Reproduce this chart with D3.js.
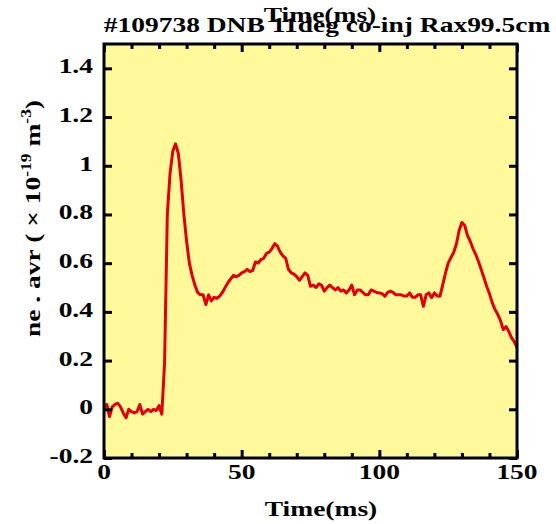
<!DOCTYPE html>
<html>
  <head>
    <script src="https://d3js.org/d3.v7.min.js"></script>
    <style>
      body {
        margin: 0;
        background: #ffffff;
      }
      text {
        font-family: "Liberation Serif", "Times New Roman", serif;
        font-weight: bold;
      }
    </style>
  </head>
  <body>
    <div id="chart"></div>
  </body>

  <script type="text/javascript">
    // shot #109738, line-averaged density vs time
    const timeMs = [
      0, 1, 2, 3, 4, 5, 6, 7, 8, 9, 10, 11, 12, 13, 14, 15, 16, 17, 18, 19,
      20, 21, 22, 23, 24, 25, 26, 27, 28, 29, 30, 31, 32, 33, 34, 35, 36, 37,
      38, 39, 40, 41, 42, 43, 44, 45, 46, 47, 48, 49, 50, 51, 52, 53, 54, 55,
      56, 57, 58, 59, 60, 61, 62, 63, 64, 65, 66, 67, 68, 69, 70, 71, 72, 73,
      74, 75, 76, 77, 78, 79, 80, 81, 82, 83, 84, 85, 86, 87, 88, 89, 90, 91,
      92, 93, 94, 95, 96, 97, 98, 99, 100, 101, 102, 103, 104, 105, 106, 107,
      108, 109, 110, 111, 112, 113, 114, 115, 116, 117, 118, 119, 120, 121,
      122, 123, 124, 125, 126, 127, 128, 129, 130, 131, 132, 133, 134, 135,
      136, 137, 138, 139, 140, 141, 142, 143, 144, 145, 146, 147, 148, 149, 150,
    ];
    const neAvr = [
      0.01, 0.02, -0.03, 0.01, 0.02, 0.025, 0.01, -0.015, -0.035, 0.0, -0.01,
      -0.015, -0.01, 0.02, -0.02, -0.01, 0.0, -0.01, 0.0, -0.005, 0.015,
      -0.02, 0.19, 0.8, 0.97, 1.06, 1.09, 1.05, 0.94, 0.8, 0.69, 0.6, 0.55,
      0.51, 0.48, 0.47, 0.47, 0.43, 0.47, 0.445, 0.46, 0.455, 0.465, 0.48,
      0.5, 0.52, 0.535, 0.55, 0.545, 0.55, 0.56, 0.565, 0.575, 0.565, 0.57,
      0.605, 0.6, 0.615, 0.62, 0.64, 0.645, 0.66, 0.68, 0.67, 0.645, 0.63,
      0.62, 0.575, 0.56, 0.555, 0.545, 0.53, 0.545, 0.56, 0.55, 0.505, 0.51,
      0.5, 0.515, 0.51, 0.485, 0.5, 0.51, 0.5, 0.49, 0.5, 0.485, 0.49, 0.478,
      0.49, 0.51, 0.47, 0.49, 0.49, 0.48, 0.47, 0.47, 0.49, 0.485, 0.48,
      0.478, 0.475, 0.464, 0.48, 0.485, 0.48, 0.47, 0.47, 0.47, 0.465, 0.465,
      0.478, 0.46, 0.46, 0.47, 0.47, 0.423, 0.47, 0.478, 0.458, 0.478, 0.465,
      0.464, 0.51, 0.558, 0.6, 0.623, 0.644, 0.68, 0.735, 0.767, 0.755, 0.714,
      0.69, 0.66, 0.636, 0.607, 0.574, 0.54, 0.504, 0.475, 0.438, 0.41, 0.39,
      0.364, 0.327, 0.34, 0.32, 0.294, 0.278, 0.253,
    ];
    const xTickLabels = [0, 50, 100, 150];
    const yTickLabels = [-0.2, 0, 0.2, 0.4, 0.6, 0.8, 1, 1.2, 1.4];
    const titleText = "#109738 DNB 11deg co-inj Rax99.5cm";
    const xTitle = "Time(ms)";

    const width = 556,
      height = 524;
    const pLeft = 104,
      pRight = 517,
      pTop = 44,
      pBottom = 458;
    const fontSize = 22,
      stretch = 1.25;

    const svg = d3
      .select("#chart")
      .append("svg")
      .attr("width", width)
      .attr("height", height);

    const x = d3.scaleLinear().domain([0, 150]).range([pLeft, pRight]);
    const y = d3.scaleLinear().domain([-0.2, 1.5]).range([pBottom, pTop]);

    // bold serif text, a bit wider than tall like the original plot
    function label(px, py, anchor, str) {
      return svg
        .append("g")
        .attr("transform", `translate(${px},${py})`)
        .append("text")
        .attr("transform", `scale(${stretch},1)`)
        .attr("text-anchor", anchor)
        .attr("font-size", fontSize)
        .text(str);
    }

    svg
      .append("rect")
      .attr("x", pLeft)
      .attr("y", pTop)
      .attr("width", pRight - pLeft)
      .attr("height", pBottom - pTop)
      .attr("fill", "#fff99b");

    svg
      .append("clipPath")
      .attr("id", "clip")
      .append("rect")
      .attr("x", pLeft)
      .attr("y", pTop)
      .attr("width", pRight - pLeft)
      .attr("height", pBottom - pTop);

    const line = d3
      .line()
      .x((d, i) => x(timeMs[i]))
      .y((d) => y(d));

    svg
      .append("path")
      .datum(neAvr)
      .attr("clip-path", "url(#clip)")
      .attr("d", line)
      .attr("fill", "none")
      .attr("stroke", "#e0000c")
      .attr("stroke-width", 3)
      .attr("stroke-linejoin", "round");

    // tick marks, all pointing into the frame
    function ticks(axis, tr, vals, size) {
      const g = svg
        .append("g")
        .attr("transform", tr)
        .call(axis.tickValues(vals).tickSize(size).tickFormat(""));
      g.select(".domain").remove();
      g.selectAll("line").attr("stroke", "#000").attr("stroke-width", 3);
    }
    const minorX = d3.range(10, 150, 10).filter((v) => v % 50 !== 0);
    ticks(d3.axisTop(x), `translate(0,${pBottom})`, xTickLabels, 8);
    ticks(d3.axisTop(x), `translate(0,${pBottom})`, minorX, 5);
    ticks(d3.axisBottom(x), `translate(0,${pTop})`, xTickLabels, 8);
    ticks(d3.axisBottom(x), `translate(0,${pTop})`, minorX, 5);
    ticks(d3.axisRight(y), `translate(${pLeft},0)`, yTickLabels, 8);
    ticks(d3.axisLeft(y), `translate(${pRight},0)`, yTickLabels, 8);

    svg
      .append("rect")
      .attr("x", pLeft)
      .attr("y", pTop)
      .attr("width", pRight - pLeft)
      .attr("height", pBottom - pTop)
      .attr("fill", "none")
      .attr("stroke", "#000")
      .attr("stroke-width", 3);

    xTickLabels.forEach((v) => label(x(v), 479, "middle", v));
    yTickLabels.forEach((v) => label(93, y(v) + 5, "end", v));

    label(321, 516, "middle", xTitle);
    label(320, 22, "middle", xTitle);
    label(327, 32, "middle", titleText);

    // y title with superscripts
    const yt = svg
      .append("g")
      .attr("transform", `translate(40,337) rotate(-90)`)
      .append("text")
      .attr("text-anchor", "start")
      .attr("font-size", fontSize)
      .attr("transform", `scale(${stretch},1)`);
    yt.append("tspan").text("ne . avr ( \u00d7 10");
    yt.append("tspan")
      .attr("font-size", 14)
      .attr("dy", -9)
      .text("-19");
    yt.append("tspan").attr("dy", 9).text(" m");
    yt.append("tspan")
      .attr("font-size", 14)
      .attr("dy", -9)
      .text("-3");
    yt.append("tspan").attr("dy", 9).text(")");
  </script>
</html>
